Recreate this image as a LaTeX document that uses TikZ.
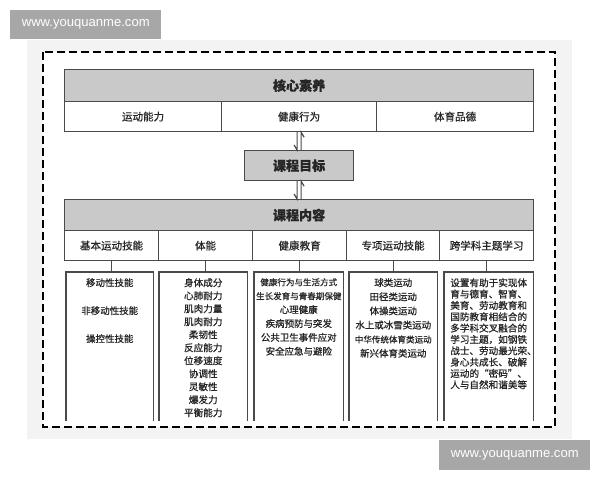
\documentclass[tikz,border=0pt]{standalone}
\usepackage{fontspec}
\newfontfamily\cjk{Noto Sans CJK SC}[FakeBold=0.8]
\newfontfamily\wm{Liberation Sans}
\usetikzlibrary{calc}
\definecolor{hdr}{HTML}{C9C9C9}
\definecolor{ln}{HTML}{4A4A4A}
\definecolor{tx}{HTML}{262626}
\definecolor{bgl}{HTML}{F3F3F3}
\definecolor{wmg}{HTML}{A7A7A7}
\begin{document}
\begin{tikzpicture}[x=0.75pt,y=-0.75pt,
 cell/.style={draw=ln, line width=0.9pt, inner sep=0pt, anchor=north west, text=tx, font=\cjk\fontsize{7.9}{9}\selectfont},
 head/.style={cell, fill=hdr, font=\cjk\bfseries\fontsize{9.8}{11}\selectfont},
 boxshape/.style={inner sep=0pt, anchor=north west, minimum height=148*0.75pt},
 conn/.style={draw=ln, line width=0.9pt},
 body/.style={inner sep=0pt, anchor=north, text=tx, align=center},
 wmark/.style={fill=wmg, text=white, inner sep=0pt, anchor=north west, font=\wm\fontsize{9.8}{11}\selectfont},
]
\useasboundingbox (0,0) rectangle (600,480);
\fill[white] (0,0) rectangle (600,480);
\fill[bgl] (27,40) rectangle (572,439);
\fill[white] (43,52) rectangle (555,427);
\draw[black, line width=1.5pt, dash pattern=on 6pt off 3pt] (43,52) rectangle (555,427);

% core literacy
\node[head, minimum width=469*0.75pt, minimum height=32*0.75pt] (ks) at (64,69) {核心素养};
\node[cell, minimum width=157*0.75pt, minimum height=30*0.75pt] (k1) at (64,101) {运动能力};
\node[cell, minimum width=155*0.75pt, minimum height=30*0.75pt] (k2) at (221,101) {健康行为};
\node[cell, minimum width=157*0.75pt, minimum height=30*0.75pt] (k3) at (376,101) {体育品德};

% goals
\node[head, minimum width=109*0.75pt, minimum height=30*0.75pt] (mb) at (244,150) {课程目标};

% content
\node[head, minimum width=469*0.75pt, minimum height=31*0.75pt] (nr) at (64,199) {课程内容};
\node[cell, minimum width=94*0.75pt, minimum height=30*0.75pt] (h1) at (64,230) {基本运动技能};
\node[cell, minimum width=94*0.75pt, minimum height=30*0.75pt] (h2) at (158,230) {体能};
\node[cell, minimum width=94*0.75pt, minimum height=30*0.75pt] (h3) at (252,230) {健康教育};
\node[cell, minimum width=93*0.75pt, minimum height=30*0.75pt] (h4) at (346,230) {专项运动技能};
\node[cell, minimum width=94*0.75pt, minimum height=30*0.75pt] (h5) at (439,230) {跨学科主题学习};

% harpoons
\draw[conn] ($(k2.south)+(-2,0)$) -- ($(mb.north)+(-2,0)$) -- ++(-3,-5);
\draw[conn] ($(mb.north)+(2,0)$) -- ($(k2.south)+(2,0)$) -- ++(3,5);
\draw[conn] ($(mb.south)+(-2,0)$) -- ($(nr.north)+(-2,0)$) -- ++(-3,-5);
\draw[conn] ($(nr.north)+(2,0)$) -- ($(mb.south)+(2,0)$) -- ++(3,5);

% lower boxes
\node[boxshape, minimum width=87*0.75pt] (b1) at (66,272) {};
\node[boxshape, minimum width=88*0.75pt] (b2) at (159,272) {};
\node[boxshape, minimum width=89*0.75pt] (b3) at (254,272) {};
\node[boxshape, minimum width=88*0.75pt] (b4) at (349,272) {};
\node[boxshape, minimum width=89*0.75pt] (b5) at (444,272) {};
\foreach \b in {b1,b2,b3,b4,b5}{
  \draw[conn] (\b.south west) |- (\b.north east) -- (\b.south east);
}
\foreach \h/\b in {h1/b1,h2/b2,h3/b3,h4/b4,h5/b5}{
  \draw[conn] (\h.south) -- (\h.south |- \b.north);
}

% texts
\node[body, font=\cjk\fontsize{7.1}{21}\selectfont] (t1) at ($(b1.north)+(0,6)$) {移动性技能\\非移动性技能\\操控性技能};
\node[body, font=\cjk\fontsize{7.2}{9.75}\selectfont] (t2) at ($(b2.north)+(0,6)$) {身体成分\\心肺耐力\\肌肉力量\\肌肉耐力\\柔韧性\\反应能力\\位移速度\\协调性\\灵敏性\\爆发力\\平衡能力};
\node[body, font=\cjk\fontsize{7.1}{10.4}\selectfont] (t3) at ($(b3.north)+(0,6)$) {{\fontsize{6.4}{10.4}\selectfont 健康行为与生活方式}\\{\fontsize{6.4}{10.4}\selectfont 生长发育与青春期保健}\\心理健康\\疾病预防与突发\\公共卫生事件应对\\安全应急与避险};
\node[body, font=\cjk\fontsize{7.1}{10.6}\selectfont] (t4) at ($(b4.north)+(0,6)$) {球类运动\\田径类运动\\体操类运动\\水上或冰雪类运动\\{\fontsize{6.4}{10.6}\selectfont 中华传统体育类运动}\\新兴体育类运动};
\node[body, anchor=north west, align=left, font=\cjk\fontsize{7.2}{8.5}\selectfont] (t5) at ($(b5.north west)+(6,6)$) {设置有助于实现体\\育与德育、智育、\\美育、劳动教育和\\国防教育相结合的\\多学科交叉融合的\\学习主题，如钢铁\\战士、劳动最光荣、\\身心共成长、破解\\运动的“密码”、\\人与自然和谐美等};

% watermarks
\node[wmark, minimum width=151*0.75pt, minimum height=29*0.75pt] (w1) at (10,10) {www.youquanme.com};
\node[wmark, minimum width=151*0.75pt, minimum height=30*0.75pt] (w2) at (439,440) {www.youquanme.com};
\end{tikzpicture}
\end{document}
